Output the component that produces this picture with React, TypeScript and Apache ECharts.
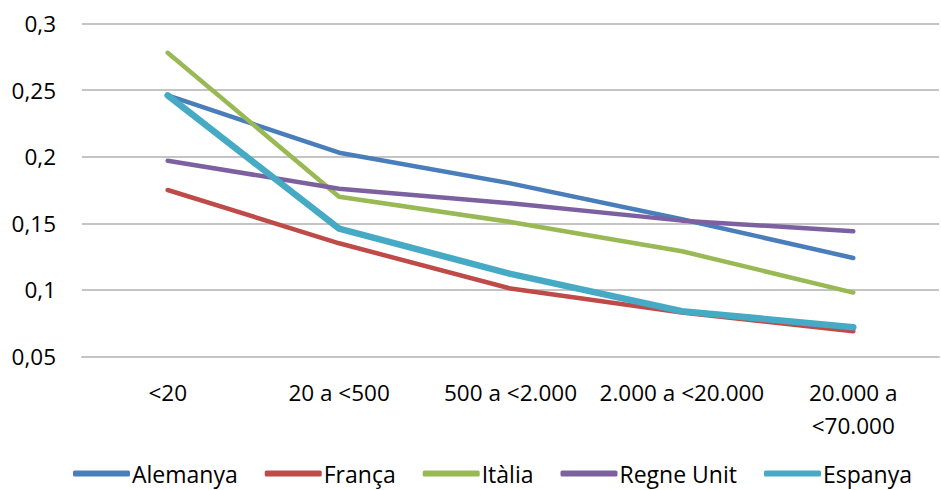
import React, { useEffect, useRef } from "react";
import * as echarts from "echarts";

const categories = ["<20", "20 a <500", "500 a <2.000", "2.000 a <20.000", "20.000 a\n<70.000"];
const yTicks = { min: 0.05, max: 0.3, interval: 0.05 };

const alemanya = [0.246, 0.203, 0.18, 0.153, 0.124];
const franca = [0.175, 0.135, 0.101, 0.083, 0.069];
const italia = [0.278, 0.17, 0.151, 0.129, 0.098];
const regneUnit = [0.197, 0.176, 0.165, 0.152, 0.144];
const espanya = [0.246, 0.146, 0.112, 0.084, 0.072];

const seriesDefs = [
  { name: "Alemanya", data: alemanya, color: "#4a7ebb", width: 4.5 },
  { name: "França", data: franca, color: "#be4b48", width: 4.5 },
  { name: "Itàlia", data: italia, color: "#98b954", width: 4.5 },
  { name: "Regne Unit", data: regneUnit, color: "#7d60a0", width: 4.5 },
  { name: "Espanya", data: espanya, color: "#46aac5", width: 6.5 },
];

const FONT = "'Open Sans', 'Liberation Sans', sans-serif";

export default function App() {
  const ref = useRef<HTMLDivElement>(null);
  useEffect(() => {
    if (!ref.current) return;
    const chart = echarts.init(ref.current, null, { renderer: "svg" });
    chart.setOption({
      animation: false,
      backgroundColor: "#ffffff",
      grid: { left: 82, right: 2, top: 23.5, bottom: 133.5, containLabel: false },
      xAxis: {
        type: "category",
        data: categories,
        boundaryGap: true,
        axisLine: { show: true, lineStyle: { color: "#c4c4c4", width: 2 } },
        axisTick: { show: false },
        axisLabel: {
          color: "#000",
          fontFamily: FONT,
          fontSize: 22.5,
          lineHeight: 33,
          margin: 19,
          interval: 0,
        },
      },
      yAxis: {
        type: "value",
        min: yTicks.min,
        max: yTicks.max,
        interval: yTicks.interval,
        axisLine: { show: false },
        axisTick: { show: false },
        splitLine: { lineStyle: { color: "#c4c4c4", width: 2 } },
        axisLabel: {
          color: "#000",
          fontFamily: FONT,
          fontSize: 22.5,
          margin: 26,
          formatter: (v: number) => String(Math.round(v * 100) / 100).replace(".", ","),
        },
      },
      legend: {
        left: 68,
        top: 457,
        itemWidth: 57,
        itemHeight: 6,
        itemGap: 27,
        icon: "roundRect",
        textStyle: { color: "#000", fontFamily: FONT, fontSize: 23, padding: [0, 0, 0, -3] },
        data: seriesDefs.map((s) => s.name),
      },
      series: seriesDefs.map((s) => ({
        name: s.name,
        type: "line",
        data: s.data,
        showSymbol: false,
        symbol: "none",
        color: s.color,
        lineStyle: { color: s.color, width: s.width, cap: "round", join: "round" },
        itemStyle: { color: s.color },
      })),
    });
    return () => chart.dispose();
  }, []);
  return (
    <div
      ref={ref}
      style={{ position: "absolute", left: 0, top: 0, width: 941, height: 490, background: "#fff" }}
    />
  );
}
